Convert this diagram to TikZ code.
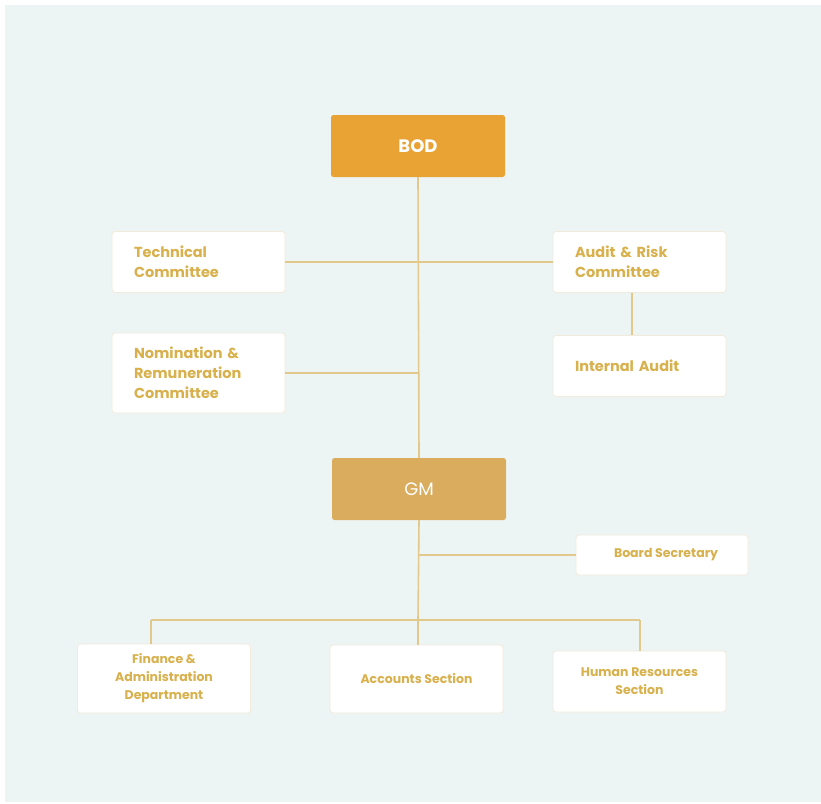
\documentclass[tikz,border=0pt]{standalone}
\usepackage{fontspec}
\setmainfont{Poppins}
\definecolor{bgc}{HTML}{EDF5F4}
\definecolor{bodc}{HTML}{E9A234}
\definecolor{gmc}{HTML}{D9AC5E}
\definecolor{txc}{HTML}{D8B04C}
\definecolor{lnc}{HTML}{E3C88C}
\definecolor{bdc}{HTML}{F2EADB}
\tikzset{
  topbox/.style={rounded corners=2.5pt, text=white, font=\fontsize{18}{22}\selectfont\bfseries,
    minimum width=174pt, minimum height=62pt, inner sep=0pt},
  lbox/.style={rounded corners=3pt, fill=white, draw=bdc, line width=0.8pt, text=txc,
    font=\fontsize{14.5}{20}\selectfont\bfseries, text width=129pt, align=left,
    inner xsep=22pt, inner ysep=0pt, minimum height=61pt},
  bbox/.style={rounded corners=3pt, fill=white, draw=bdc, line width=0.8pt, text=txc,
    font=\fontsize{12.5}{18}\selectfont\bfseries, align=center,
    minimum width=173pt, minimum height=68pt, inner sep=0pt},
  conn/.style={draw=lnc, line width=1.6pt}
}
\begin{document}
\begin{tikzpicture}[x=1pt,y=-1pt]
\useasboundingbox (0,0) rectangle (821,803);
\fill[white] (0,0) rectangle (821,803);
\fill[bgc] (5,5) rectangle (821,802);

\node[topbox, fill=bodc] (bod) at (418,146) {BOD};
\node[topbox, fill=gmc, font=\fontsize{18}{22}\selectfont] (gm) at (419,489) {GM};

\node[lbox] (tech) at (198.5,262) {Technical\\Committee};
\node[lbox] (arc) at (639.5,262) {Audit \& Risk\\Committee};
\node[lbox] (ia) at (639.5,366) {Internal Audit};
\node[lbox, minimum height=80pt] (nom) at (198.5,373) {Nomination \&\\Remuneration\\Committee};

\node[bbox, minimum width=172pt, minimum height=40pt] (bs) at (662,555) {\hspace{8pt}Board Secretary};

\node[bbox, minimum height=69pt] (fin) at (164,678.5) {Finance \&\\Administration\\Department};
\node[bbox] (acc) at (416.5,679) {Accounts Section};
\node[bbox, minimum height=61pt] (hr) at (639.5,681.5) {Human Resources\\Section};

\coordinate (j2) at (419,373);
\coordinate (j3) at (418,555);
\coordinate (j4) at (418,620);
\coordinate (jl) at (151,620);
\coordinate (jr) at (640,620);
\coordinate (ja) at (632,300);

\draw[conn] (bod.south) -- (gm.north);
\draw[conn] (tech.east) -- (arc.west);
\draw[conn] (nom.east) -- (j2);
\draw[conn] (arc.south -| ja) -- (ia.north -| ja);
\draw[conn] (gm.south) -- (j4);
\draw[conn] (j3) -- (bs.west);
\draw[conn] (jl) -- (jr);
\draw[conn] (jl) -- (jl |- fin.north);
\draw[conn] (j4) -- (j4 |- acc.north);
\draw[conn] (jr) -- (jr |- hr.north);
\end{tikzpicture}
\end{document}
